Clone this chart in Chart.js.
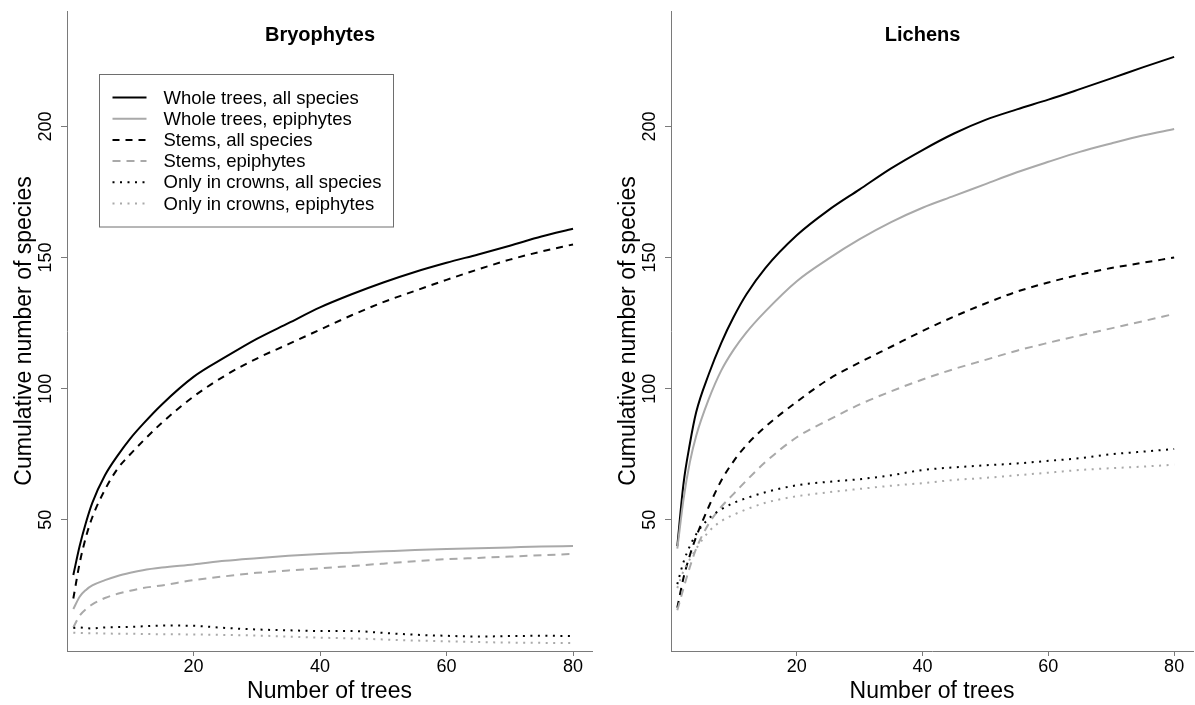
<!DOCTYPE html>
<html>
<head>
<meta charset="utf-8">
<script src="https://cdn.jsdelivr.net/npm/chart.js@4.4.1/dist/chart.umd.min.js"></script>
<style>
  html, body { margin: 0; padding: 0; background: #fff; }
  body { width: 1195px; height: 705px; position: relative; overflow: hidden; }
  .panel { position: absolute; top: 0; }
</style>
</head>
<body>
<div class="panel" style="left:0px"><canvas id="bryoChart" width="603" height="705"></canvas></div>
<div class="panel" style="left:604px"><canvas id="lichChart" width="591" height="705"></canvas></div>
<script>
// Number of trees sampled (x values shared by all curves)
const trees = [1, 2, 3, 4, 6, 8, 10, 12, 15, 20, 25, 30, 35, 40, 45, 50, 55, 60, 65, 70, 75, 80];

// Bryophytes
const bryoWholeAll  = [29, 40, 49, 56.5, 67, 74.5, 81, 86.5, 94, 104.5, 112, 119, 125, 131, 136, 140.5, 144.5, 148, 151.2, 154.5, 158, 161];
const bryoWholeEpi  = [16, 20.7, 23.3, 25, 27, 28.6, 29.8, 30.8, 31.8, 33, 34.4, 35.4, 36.3, 37, 37.5, 38, 38.5, 38.9, 39.2, 39.5, 39.8, 40];
const bryoStemsAll  = [20, 33.5, 43.5, 51, 61.5, 69.5, 75, 80, 87, 97, 105, 111.5, 117, 122.5, 128, 133, 137.3, 141.5, 145.5, 149.2, 152.3, 155];
const bryoStemsEpi  = [9, 13.5, 16, 17.8, 20.2, 21.8, 23, 24, 25, 27, 28.5, 29.8, 30.7, 31.5, 32.4, 33.3, 34.2, 35, 35.5, 36, 36.5, 37];
const bryoCrownAll  = [8.8, 9, 8.7, 8.6, 9, 9.1, 9.2, 9.4, 9.7, 9.6, 8.8, 8.2, 7.9, 7.6, 7.6, 6.9, 6.2, 5.8, 5.5, 5.7, 5.8, 5.7];
const bryoCrownEpi  = [7, 6.9, 6.8, 6.8, 6.7, 6.6, 6.6, 6.5, 6.4, 6.3, 6.1, 5.9, 5.5, 5.1, 4.8, 4.4, 4, 3.7, 3.4, 3.2, 3.1, 3];

// Lichens
const lichWholeAll  = [40, 64, 79, 91, 105.5, 117.5, 127.5, 136, 146, 158.5, 168, 176, 184, 191, 197.3, 202.5, 206.5, 210.2, 214.2, 218.3, 222.5, 226.5];
const lichWholeEpi  = [39, 58, 72, 82, 96, 107, 115, 121.5, 129.5, 141, 149.5, 157, 163.5, 169, 173.5, 178, 182.5, 186.5, 190.3, 193.5, 196.5, 199];
const lichStemsAll  = [16.5, 28, 36.5, 43.5, 55, 65, 72.5, 78.5, 85.5, 95, 103.5, 110, 116, 122, 127.5, 132.5, 137, 140.5, 143.5, 146, 148, 150];
const lichStemsEpi  = [15.5, 24, 32, 39, 48.5, 55, 60, 65, 72, 81.5, 88, 94, 99, 103.5, 107.5, 111, 114.5, 117.5, 120.3, 123, 125.7, 128.5];
const lichCrownAll  = [25.5, 34, 40, 44.5, 50.5, 54, 56.5, 58.3, 60.5, 63.2, 64.5, 65.5, 67, 69, 70, 70.8, 71.5, 72.5, 73.5, 75, 76, 77];
const lichCrownEpi  = [24, 30.5, 35, 39, 45.5, 49.5, 52, 54, 56.5, 59, 60.5, 61.8, 63, 64, 65.2, 66, 67, 68, 69, 69.7, 70.3, 71];

const seriesLabels = [
    'Whole trees, all species',
    'Whole trees, epiphytes',
    'Stems, all species',
    'Stems, epiphytes',
    'Only in crowns, all species',
    'Only in crowns, epiphytes'
];
const xTicks = [20, 40, 60, 80];
const yTicks = [50, 100, 150, 200];

const FONT = '"Liberation Sans", Arial, Helvetica, sans-serif';
const BLACK = '#000000';
const GREY = '#a9a9a9';
const AXIS = '#7a7a7a';

// line styles, in the same order as seriesLabels
const styles = [
    { color: BLACK, dash: [] },
    { color: GREY,  dash: [] },
    { color: BLACK, dash: [7, 6] },
    { color: GREY,  dash: [8, 6] },
    { color: BLACK, dash: [2, 5.5] },
    { color: GREY,  dash: [2, 5.5] }
];

function makeDatasets(seriesList) {
    return seriesList.map((vals, i) => ({
        label: seriesLabels[i],
        data: vals.map((v, j) => ({ x: trees[j], y: v })),
        borderColor: styles[i].color,
        borderDash: styles[i].dash,
        borderWidth: 2,
        borderCapStyle: 'butt',
        pointRadius: 0,
        fill: false,
        cubicInterpolationMode: 'monotone',
        order: 6 - i
    }));
}

// Panel title drawn inside the plot area, centred on x = 40
function panelTitle(text) {
    return {
        id: 'panelTitle',
        afterDraw(chart) {
            const ctx = chart.ctx;
            const x = chart.scales.x.getPixelForValue(40);
            ctx.save();
            ctx.font = 'bold 20px ' + FONT;
            ctx.fillStyle = '#000';
            ctx.textAlign = 'center';
            ctx.textBaseline = 'alphabetic';
            ctx.fillText(text, x, chart.chartArea.top + 30);
            ctx.restore();
        }
    };
}

// Boxed legend in the upper left of the bryophyte panel
const boxLegend = {
    id: 'boxLegend',
    afterDraw(chart) {
        const ctx = chart.ctx;
        const a = chart.chartArea;
        const bx = a.left + 31.5, by = a.top + 62.5, bw = 294, bh = 152.5;
        ctx.save();
        ctx.strokeStyle = '#6e6e6e';
        ctx.lineWidth = 1;
        ctx.strokeRect(Math.round(bx) + 0.5, Math.round(by) + 0.5, bw, bh);
        ctx.font = '18.5px ' + FONT;
        ctx.textBaseline = 'middle';
        ctx.textAlign = 'left';
        chart.data.datasets.forEach((ds, i) => {
            const y = by + 24 + i * 21.2;
            ctx.beginPath();
            ctx.setLineDash(ds.borderDash);
            ctx.strokeStyle = ds.borderColor;
            ctx.lineWidth = 2;
            ctx.moveTo(bx + 14, y);
            ctx.lineTo(bx + 48, y);
            ctx.stroke();
            ctx.setLineDash([]);
            ctx.fillStyle = '#000';
            ctx.fillText(ds.label, bx + 65, y + 1);
        });
        ctx.restore();
    }
};

function makeOptions(rightPad) {
    return {
        responsive: false,
        animation: false,
        layout: { padding: { top: 11, right: rightPad, bottom: 0, left: 0 } },
        plugins: {
            legend: { display: false },
            tooltip: { enabled: false }
        },
        scales: {
            x: {
                type: 'linear',
                min: 0,
                max: 83,
                afterFit: s => { s.height = 54; },
                afterBuildTicks: s => { s.ticks = xTicks.map(v => ({ value: v })); },
                grid: { drawOnChartArea: false, tickLength: 5, tickColor: AXIS, lineWidth: 1 },
                border: { display: true, color: AXIS, width: 1 },
                ticks: {
                    color: '#000',
                    font: { family: FONT, size: 18 },
                    padding: 0,
                    maxRotation: 0,
                    autoSkip: false
                },
                title: {
                    display: true,
                    text: 'Number of trees',
                    color: '#000',
                    font: { family: FONT, size: 23 },
                    padding: { top: 0, bottom: 0 }
                }
            },
            y: {
                type: 'linear',
                min: 0,
                max: 244,
                afterFit: s => { s.width = 67; },
                afterBuildTicks: s => { s.ticks = yTicks.map(v => ({ value: v })); },
                grid: { drawOnChartArea: false, tickLength: 6, tickColor: AXIS, lineWidth: 1 },
                border: { display: true, color: AXIS, width: 1 },
                ticks: {
                    color: '#000',
                    font: { family: FONT, size: 18 },
                    padding: 0,
                    minRotation: 90,
                    maxRotation: 90,
                    crossAlign: 'center',
                    autoSkip: false
                },
                title: {
                    display: true,
                    text: 'Cumulative number of species',
                    color: '#000',
                    font: { family: FONT, size: 23 },
                    padding: { top: 11, bottom: 0 }
                }
            }
        }
    };
}

new Chart(document.getElementById('bryoChart'), {
    type: 'line',
    data: { datasets: makeDatasets([bryoWholeAll, bryoWholeEpi, bryoStemsAll, bryoStemsEpi, bryoCrownAll, bryoCrownEpi]) },
    options: makeOptions(11),
    plugins: [panelTitle('Bryophytes'), boxLegend]
});

new Chart(document.getElementById('lichChart'), {
    type: 'line',
    data: { datasets: makeDatasets([lichWholeAll, lichWholeEpi, lichStemsAll, lichStemsEpi, lichCrownAll, lichCrownEpi]) },
    options: makeOptions(2),
    plugins: [panelTitle('Lichens')]
});
</script>
</body>
</html>
